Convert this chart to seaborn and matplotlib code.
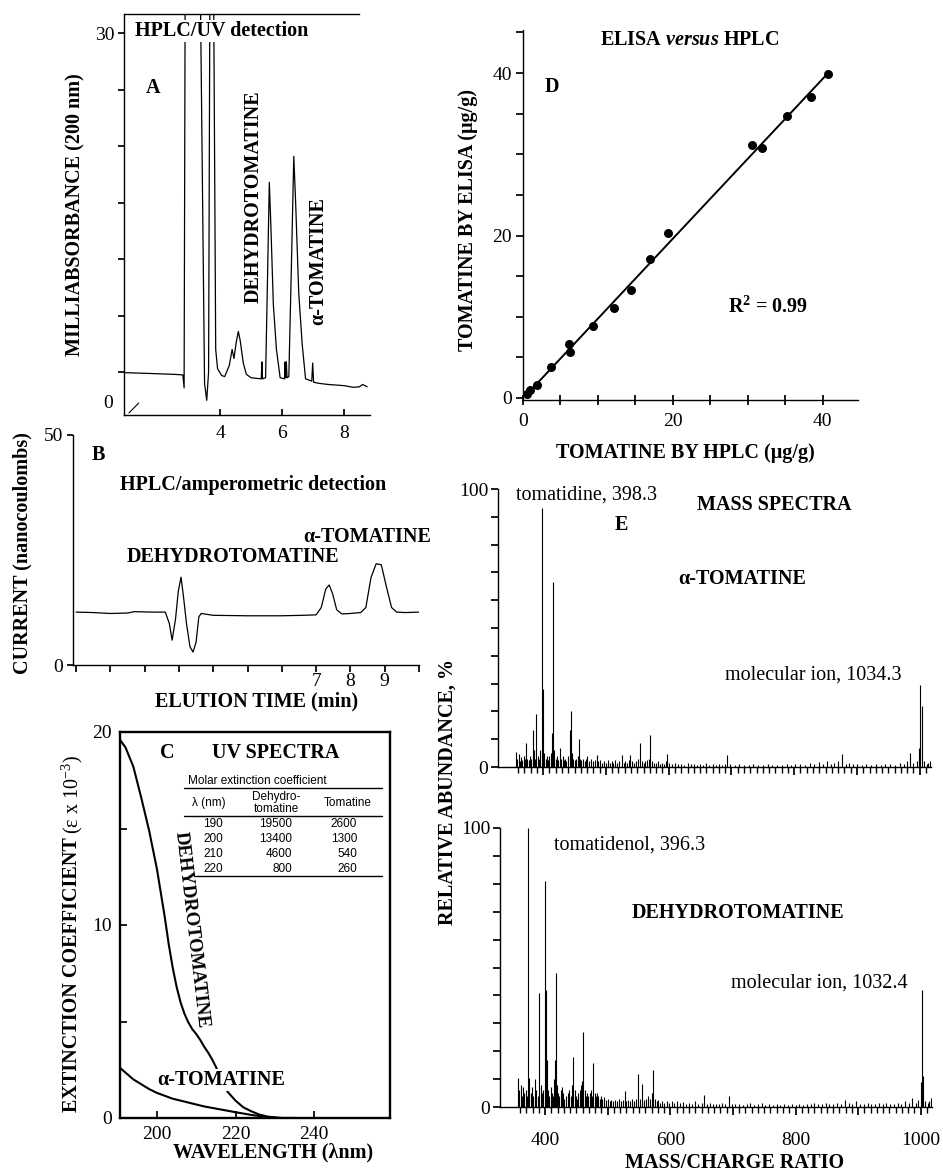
import matplotlib
matplotlib.use("Agg")
import matplotlib.pyplot as plt
from matplotlib.lines import Line2D
import pandas as pd
import seaborn as sns

# ---------------- data ----------------
# Panel A : HPLC/UV chromatogram (elution time, min ; milliabsorbance)
a_time = [0.90, 1.50, 2.00, 2.50, 2.80, 2.84, 2.88, 3.34, 3.50, 3.57, 3.63, 3.68,
          3.78, 3.86, 3.92, 4.05, 4.15, 4.30, 4.39, 4.45, 4.52, 4.59, 4.65, 4.75,
          4.85, 5.00, 5.33, 5.35, 5.37, 5.47, 5.53, 5.59, 5.64, 5.72, 5.82, 5.94,
          6.08, 6.10, 6.12, 6.14, 6.16, 6.22, 6.30, 6.38, 6.44, 6.54, 6.65, 6.76,
          6.96, 6.99, 7.02, 7.20, 7.50, 8.00, 8.30, 8.50, 8.60, 8.75]
a_signal = [-0.05, -0.1, -0.15, -0.2, -0.25, -1.4, 40, 40, -1.0, -2.5, 0.0, 40,
            40, 2.0, 0.3, -0.3, -0.4, 0.6, 2.0, 1.2, 2.6, 3.6, 2.8, 0.8,
            -0.2, -0.5, -0.6, 0.9, -0.6, -0.5, 8.0, 16.8, 13.0, 6.0, 2.0, -0.5,
            -0.6, 0.9, -0.5, 0.9, -0.5, -0.4, 9.0, 19.1, 15.0, 7.0, 2.5, -0.6,
            -0.8, 0.8, -0.9, -1.0, -1.1, -1.2, -1.35, -1.3, -1.1, -1.3]
a_xticks = [4, 6, 8]

# Panel B : HPLC/amperometric chromatogram (min ; nanocoulombs)
b_time = [0.0, 0.5, 1.0, 1.5, 1.7, 2.2, 2.6, 2.72, 2.80, 2.90, 2.98, 3.06, 3.13,
          3.22, 3.32, 3.41, 3.50, 3.58, 3.65, 4.0, 5.0, 6.0, 6.6, 7.0, 7.15, 7.28,
          7.38, 7.48, 7.60, 7.75, 8.0, 8.3, 8.45, 8.6, 8.75, 8.9, 9.05, 9.2, 9.35,
          9.6, 10.0]
b_current = [11.5, 11.4, 11.2, 11.3, 11.6, 11.5, 11.5, 9.0, 5.4, 10.0, 16.0, 19.1,
             15.0, 9.0, 4.0, 2.8, 5.0, 10.5, 11.2, 10.8, 10.7, 10.7, 10.8, 10.9,
             12.5, 16.5, 17.4, 15.5, 12.0, 11.1, 11.2, 11.4, 12.5, 19.0, 22.0,
             21.8, 17.0, 12.5, 11.5, 11.4, 11.5]
b_xtick_labels = {7: "7", 8: "8", 9: "9"}

# Panel C : UV spectra (wavelength nm ; extinction coefficient x 10^-3)
c_wl_dehydro = [190.6, 192, 194, 196, 198, 200, 202, 203, 204, 205, 206, 207,
                208, 209, 210, 211, 212, 213, 214, 215, 216, 217, 218, 220, 222,
                224, 226, 228, 231, 235]
c_eps_dehydro = [19.6, 19.2, 18.2, 16.6, 14.9, 12.9, 10.4, 9.0, 7.8, 6.8, 6.0,
                 5.4, 4.95, 4.6, 4.35, 4.05, 3.7, 3.4, 3.05, 2.65, 2.2, 1.75,
                 1.35, 0.9, 0.55, 0.35, 0.18, 0.08, 0.0, 0.0]
c_wl_toma = [190.6, 192, 194, 196, 198, 200, 204, 208, 212, 216, 220, 224, 228,
             232, 235]
c_eps_toma = [2.6, 2.35, 2.0, 1.75, 1.5, 1.3, 1.0, 0.8, 0.6, 0.45, 0.3, 0.16,
              0.05, 0.0, 0.0]
table_wl = ["190", "200", "210", "220"]
table_dehydro = ["19500", "13400", "4600", "800"]
table_toma = ["2600", "1300", "540", "260"]

# Panel D : ELISA versus HPLC (ug/g)
d_hplc = [0.5, 1.0, 1.9, 3.8, 6.1, 6.3, 9.3, 12.2, 14.4, 16.9, 19.3, 30.6, 31.9,
          35.2, 38.4, 40.7]
d_elisa = [0.5, 1.0, 1.6, 3.8, 6.6, 5.6, 8.8, 11.1, 13.3, 17.1, 20.3, 31.1, 30.8,
           34.7, 37.0, 39.9]

# Panel E : mass spectra (m/z ; relative abundance %)
e_toma_mz = [357, 359, 361, 363, 365, 367, 369, 371, 373, 375, 377, 379, 381, 383,
             384, 386, 387, 389, 391, 393, 395, 398, 400, 402, 404, 406, 408, 410,
             412, 414, 416, 418, 420, 422, 424, 427, 429, 431, 433, 435, 437, 440,
             443, 444, 446, 448, 450, 452, 455, 457, 459, 461, 463, 466, 468, 470,
             473, 476, 479, 482, 485, 488, 491, 494, 497, 500, 503, 506, 509, 512,
             515, 518, 521, 525, 528, 531, 534, 536, 539, 542, 545, 548, 551, 554,
             557, 560, 563, 566, 568, 571, 574, 577, 580, 583, 586, 589, 592, 595,
             598, 601, 605, 610, 615, 620, 625, 630, 635, 640, 645, 650, 655, 660,
             665, 670, 675, 680, 685, 690, 693, 698, 705, 712, 720, 728, 735, 742,
             750, 758, 765, 772, 780, 788, 795, 802, 810, 818, 825, 832, 840, 846,
             852, 858, 864, 870, 876, 882, 888, 894, 900, 908, 915, 922, 930, 938,
             945, 952, 960, 968, 975, 980, 985, 990, 995, 999, 1001, 1004, 1007,
             1011, 1014, 1016]
e_toma_ab = [5.5, 3, 4.5, 2, 3.5, 2.5, 4, 3, 8.6, 3, 2.5, 4, 3, 5,
             13.4, 6, 3, 19, 4, 3, 6, 93, 28, 5, 3, 4, 2.5, 4,
             5, 12.2, 66.4, 6, 3, 4, 2.5, 7, 3, 4, 2.5, 3, 2, 4,
             13.4, 20.3, 5, 3, 2.5, 3, 4, 10, 3, 2.5, 3, 2, 3, 4,
             2, 3, 2, 2.5, 4.4, 2, 2.5, 1.5, 2, 1.5, 2.5, 1.5, 2, 1.5,
             2.5, 1.5, 2, 4.4, 1.5, 2, 1.5, 2.5, 4.4, 2, 1.5, 2, 3, 8.6,
             2, 1.5, 2, 2.5, 3, 11.6, 2, 1.5, 1.5, 2, 1, 1.5, 1, 2,
             4.8, 1.5, 1, 1.5, 1, 1.2, 0.8, 1.5, 1, 1.2, 0.8, 1, 0.8, 1.5,
             0.8, 1, 0.6, 1, 0.8, 1.2, 4.4, 1, 0.8, 1, 0.6, 0.8, 1, 0.6,
             0.8, 1, 0.6, 0.8, 0.6, 1, 0.8, 1, 1.2, 0.8, 1.5, 1, 1.8, 1.2,
             2, 1, 1.5, 2, 4.8, 1, 1.5, 1, 1.2, 0.8, 1, 0.8, 1, 0.8,
             1, 1.2, 0.8, 1.5, 1, 2, 5, 1.5, 2, 7, 29.6, 22, 2,
             1, 1.5, 2]
e_dehy_mz = [357, 359, 361, 363, 365, 367, 369, 371, 373, 375, 377, 379, 381, 384,
             386, 388, 391, 393, 395, 397, 400, 401, 403, 405, 407, 409, 411, 413,
             415, 416, 417, 419, 421, 423, 425, 427, 429, 431, 433, 436, 438, 441,
             443, 445, 447, 449, 451, 453, 455, 457, 459, 461, 463, 465, 467, 469,
             471, 473, 475, 477, 479, 481, 483, 485, 487, 489, 491, 494, 497, 500,
             503, 506, 509, 512, 515, 518, 521, 524, 527, 530, 533, 536, 539, 542,
             545, 549, 552, 555, 558, 561, 564, 567, 570, 572, 575, 578, 581, 584,
             587, 590, 594, 598, 602, 606, 610, 615, 620, 625, 630, 635, 640, 645,
             650, 654, 658, 663, 668, 673, 678, 683, 688, 694, 699, 704, 710, 716,
             722, 728, 734, 740, 746, 752, 758, 764, 770, 776, 782, 788, 794, 800,
             806, 812, 818, 824, 830, 836, 842, 848, 854, 860, 866, 872, 879, 885,
             891, 897, 903, 909, 915, 921, 927, 933, 939, 945, 951, 957, 963, 969,
             975, 981, 986, 992, 996, 1000, 1002, 1004, 1007, 1011, 1014, 1016]
e_dehy_ab = [10.5, 6, 8, 4, 7, 5, 6, 4, 100, 10.5, 5, 7, 4, 10,
             6, 4, 41, 8, 5, 6, 81, 42, 17, 6, 4, 7, 5, 4,
             10, 17, 48, 8, 5, 4, 6, 7, 5, 3, 4, 5, 6, 4,
             8, 18, 6, 4, 3, 5, 6, 8, 9.3, 27, 6, 4, 5, 4,
             5, 6, 4, 15.8, 5, 4, 5, 4, 3, 4, 3, 3.5, 2.5, 3,
             2, 2.5, 2, 2.5, 2, 3, 2, 2.5, 5.6, 2, 2.5, 2, 3, 2,
             3, 11.7, 3, 8.4, 2.5, 3, 4, 3, 5, 13.1, 3, 2, 2.5, 1.5,
             2, 1.5, 2, 1.5, 2, 1.5, 2, 1.5, 1.8, 1.2, 1.5, 1.2, 2, 1.2,
             1.5, 4.4, 1.2, 1.5, 1, 1.2, 1, 1.5, 1, 3.8, 1.2, 1, 1.2, 0.8,
             1, 1.5, 0.8, 1.2, 1.5, 0.8, 1, 0.8, 1, 0.8, 1.2, 0.8, 1, 0.8,
             1, 0.8, 1.2, 1, 1.5, 1, 1.2, 1.5, 1, 1.2, 1.5, 1, 2.6, 1.5,
             1.2, 2, 1, 1.2, 1.5, 1, 1.2, 1.5, 1, 1.5, 1.2, 1, 1.5, 1.2,
             2, 1.5, 3.2, 1.5, 2.5, 9, 42, 11, 2, 1.5, 2, 3.2]
e_major_ticks = [400, 500, 600, 700, 800, 900, 1000]
e_major_labels = ["400", "", "600", "", "800", "", "1000"]

# ---------------- style ----------------
W, H = 943, 1172
sns.set_theme(style="ticks")
plt.rcParams["font.family"] = ["Liberation Serif", "DejaVu Serif"]
plt.rcParams.update({
    "mathtext.fontset": "custom",
    "mathtext.rm": "Liberation Serif",
    "mathtext.it": "Liberation Serif:italic",
    "mathtext.bf": "Liberation Serif:bold",
    "mathtext.bfit": "Liberation Serif:italic:bold",
    "text.color": "black", "axes.edgecolor": "black",
    "xtick.color": "black", "ytick.color": "black",
    "axes.labelcolor": "black", "axes.linewidth": 1.0,
    "xtick.labelsize": 14, "ytick.labelsize": 14,
})
BS = 14.5
BOLD = dict(fontsize=BS, fontweight="bold")
REG = dict(fontsize=BS)
WHITE = dict(facecolor="white", edgecolor="none", pad=0.5)

fig = plt.figure(figsize=(W / 100, H / 100), dpi=100)


def axes_px(l, t, r, b):
    ax = fig.add_axes([l / W, 1 - b / H, (r - l) / W, (b - t) / H])
    ax.patch.set_alpha(0)
    return ax


def T(x, y, s, ha="left", va="center", **kw):
    return fig.text(x / W, 1 - y / H, s, ha=ha, va=va, **kw)


def hline_px(x0, x1, y, lw=1.0):
    fig.add_artist(Line2D([x0 / W, x1 / W], [1 - y / H, 1 - y / H],
                          transform=fig.transFigure, color="black", lw=lw))


# ---------------- Panel A ----------------
axA = axes_px(124, 14, 370, 415)
dfA = pd.DataFrame({"t": a_time, "v": a_signal})
sns.lineplot(data=dfA, x="t", y="v", ax=axA, color="black", lw=0.9,
             sort=False, estimator=None)
axA.set_xlim(0.9, 8.84)
axA.set_ylim(-3.8, 31.7)
axA.spines["right"].set_visible(False)
axA.spines["top"].set_bounds(0.9, 8.5)
axA.set_xticks(a_xticks, [str(v) for v in a_xticks])
axA.tick_params(axis="x", direction="in", length=4, pad=7)
axA.set_yticks(list(range(0, 31, 5)), ["", "", "", "", "", "", "30"])
axA.tick_params(axis="y", direction="out", length=4, pad=3)
axA.set_xlabel("")
axA.set_ylabel("")
axA.plot([0.02, 0.06], [0.005, 0.03], transform=axA.transAxes, color="black",
         lw=0.8, clip_on=False)
T(113, 403, "0", ha="right", fontsize=14)
T(135, 31, "HPLC/UV detection", bbox=WHITE, **BOLD)
T(153, 88, "A", ha="center", **BOLD)
T(254, 197, "DEHYDROTOMATINE", ha="center", rotation=90, **BOLD)
T(318, 261, "α-TOMATINE", ha="center", rotation=90, **BOLD)
T(75, 215, "MILLIABSORBANCE (200 nm)", ha="center", rotation=90, **BOLD)

# ---------------- Panel B ----------------
axB = axes_px(73, 435, 419, 665)
dfB = pd.DataFrame({"t": b_time, "v": b_current})
sns.lineplot(data=dfB, x="t", y="v", ax=axB, color="black", lw=0.9,
             sort=False, estimator=None)
axB.set_xlim(-0.09, 10.0)
axB.set_ylim(0, 50)
sns.despine(ax=axB)
axB.set_xticks(list(range(0, 11)),
               [b_xtick_labels.get(i, "") for i in range(0, 11)])
axB.tick_params(axis="x", direction="out", length=5, pad=0.5)
axB.set_yticks([0, 50], ["0", "50"])
axB.tick_params(axis="y", direction="out", length=4, pad=3)
axB.set_xlabel("")
axB.set_ylabel("")
T(98, 455, "B", ha="center", **BOLD)
T(120, 485, "HPLC/amperometric detection", **BOLD)
T(127, 557, "DEHYDROTOMATINE", **BOLD)
T(303, 537, "α-TOMATINE", **BOLD)
T(22, 553, "CURRENT (nanocoulombs)", ha="center", rotation=90, **BOLD)
T(257, 701, "ELUTION TIME (min)", ha="center", **BOLD)

# ---------------- Panel C ----------------
axC = axes_px(120, 732, 390, 1118)
sns.lineplot(x=c_wl_dehydro, y=c_eps_dehydro, ax=axC, color="black", lw=1.5,
             sort=False, estimator=None)
sns.lineplot(x=c_wl_toma, y=c_eps_toma, ax=axC, color="black", lw=1.5,
             sort=False, estimator=None)
axC.set_xlim(190.6, 259.3)
axC.set_ylim(0, 20)
for sp in axC.spines.values():
    sp.set_linewidth(1.7)
axC.set_xticks([200, 220, 240], ["200", "220", "240"])
axC.tick_params(axis="x", direction="in", length=5, pad=6)
axC.set_yticks([0, 5, 10, 15, 20], ["0", "", "10", "", "20"])
axC.tick_params(axis="y", direction="in", length=5, pad=6)
axC.set_xlabel("")
axC.set_ylabel("")
T(167, 753, "C", ha="center", **BOLD)
T(212, 753, "UV SPECTRA", **BOLD)
T(191.5, 930, "DEHYDROTOMATINE", ha="center", rotation=-83.4,
  rotation_mode="anchor", fontsize=13.5, fontweight="bold")
T(157, 1080, "α-TOMATINE", bbox=WHITE, **BOLD)
T(72, 1112, "EXTINCTION COEFFICIENT", ha="center", va="bottom", rotation=90,
  **BOLD)
T(72, 834, r"(ε x 10$^{-3}$)", ha="center", va="bottom", rotation=90, **REG)
T(273, 1152, "WAVELENGTH (λnm)", ha="center", **BOLD)
# table
TF = dict(family=["Liberation Sans", "DejaVu Sans"], fontsize=8.5)
T(188, 781, "Molar extinction coefficient", **TF)
hline_px(184, 382, 788)
T(209, 803, "λ (nm)", ha="center", **TF)
T(276, 803, "Dehydro-\ntomatine", ha="center", linespacing=0.95, **TF)
T(348, 803, "Tomatine", ha="center", **TF)
hline_px(184, 382, 816)
for i, (wl, dh, tm) in enumerate(zip(table_wl, table_dehydro, table_toma)):
    y = 824 + 15 * i
    T(213, y, wl, ha="center", **TF)
    T(292, y, dh, ha="right", **TF)
    T(357, y, tm, ha="right", **TF)
hline_px(195, 382, 876)

# ---------------- Panel D ----------------
axD = axes_px(523, 30, 858, 400)
sns.regplot(x=d_hplc, y=d_elisa, ax=axD, ci=None, color="black",
            scatter_kws=dict(s=42, linewidths=0, alpha=1),
            line_kws=dict(lw=1.4))
axD.set_xlim(0, 44.7)
axD.set_ylim(-0.25, 45.3)
sns.despine(ax=axD)
axD.set_xticks(list(range(0, 45, 5)),
               ["0", "", "", "", "20", "", "", "", "40"])
axD.tick_params(axis="x", direction="inout", length=7, pad=6)
axD.set_yticks(list(range(0, 46, 5)),
               ["0", "", "", "", "20", "", "", "", "40", ""])
axD.tick_params(axis="y", direction="out", length=5, pad=3)
axD.set_xlabel("")
axD.set_ylabel("")
T(690, 40, r"ELISA $\mathbfit{versus}$ HPLC", ha="center", **BOLD)
T(552, 87, "D", ha="center", **BOLD)
T(728, 307, r"R$^{\mathbf{2}}$ = 0.99", **BOLD)
T(468, 220, "TOMATINE BY ELISA (μg/g)", ha="center", rotation=90, **BOLD)
T(685, 453, "TOMATINE BY HPLC (μg/g)", ha="center", **BOLD)


# ---------------- Panel E ----------------
def spectrum_axes(ax, mz, ab, labels):
    ax.vlines(mz, 0, ab, color="black", lw=0.8)
    ax.set_xlim(328, 1018)
    ax.set_ylim(0, 100)
    sns.despine(ax=ax)
    ax.set_xticks(e_major_ticks, labels)
    ax.set_xticks(list(range(360, 1020, 10)), minor=True)
    ax.tick_params(axis="x", which="major", direction="out", length=6, pad=12)
    ax.tick_params(axis="x", which="minor", direction="out", length=4)
    ax.set_yticks(list(range(0, 101, 10)),
                  ["0"] + [""] * 9 + ["100"])
    ax.tick_params(axis="y", direction="out", length=5, pad=2)


axE1 = axes_px(498, 489, 931, 767)
spectrum_axes(axE1, e_toma_mz, e_toma_ab, [""] * 7)
axE2 = axes_px(500, 828, 932, 1107)
spectrum_axes(axE2, e_dehy_mz, e_dehy_ab, e_major_labels)

T(516, 495, "tomatidine, 398.3", **REG)
T(697, 505, "MASS SPECTRA", **BOLD)
T(621, 525, "E", ha="center", **BOLD)
T(678, 579, "α-TOMATINE", **BOLD)
T(725, 675, "molecular ion, 1034.3", **REG)
T(554, 845, "tomatidenol, 396.3", **REG)
T(632, 913, "DEHYDROTOMATINE", **BOLD)
T(731, 983, "molecular ion, 1032.4", **REG)
T(448, 792, "RELATIVE ABUNDANCE, %", ha="center", rotation=90, **BOLD)
T(735, 1163, "MASS/CHARGE RATIO", ha="center", **BOLD)

fig.savefig("out.png", dpi=100)
